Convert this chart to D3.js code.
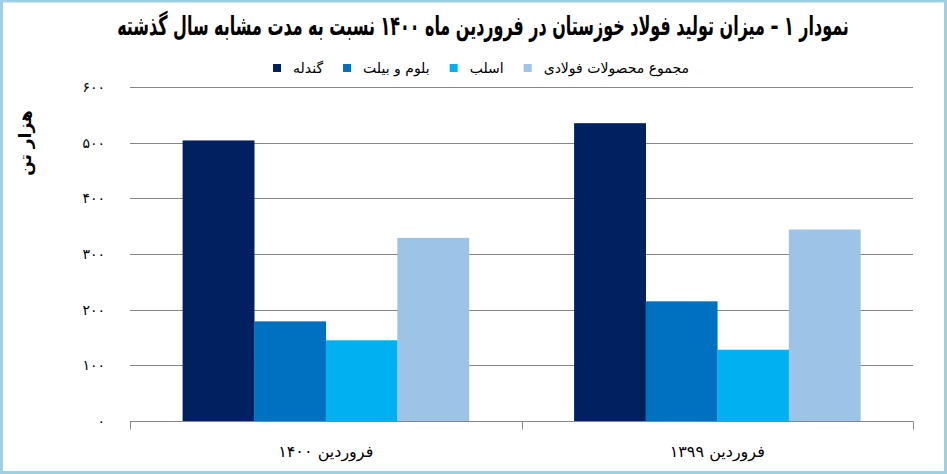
<!DOCTYPE html>
<html>
<head>
<meta charset="utf-8">
<script src="https://cdn.jsdelivr.net/npm/d3@7"></script>
<style>
  body { margin: 0; background: #fff; }
  svg { display: block; font-family: "DejaVu Sans", sans-serif; }
</style>
</head>
<body>
<svg id="chart" width="947" height="474"></svg>
<script>
// chart data
const categories = ["فروردین ۱۴۰۰", "فروردین ۱۳۹۹"];
const seriesNames = ["گندله", "بلوم و بیلت", "اسلب", "مجموع محصولات فولادی"];
const gondaleh = [504, 535];
const bloomBillet = [179, 215];
const slab = [145, 128];
const totalSteel = [329, 344];
const yTicks = [0, 100, 200, 300, 400, 500, 600];
const seriesColors = ["#002060", "#0070c0", "#00b0f0", "#9dc3e6"];

const titleText = "نمودار ۱ – میزان تولید فولاد خوزستان در فروردین ماه ۱۴۰۰ نسبت به مدت مشابه سال گذشته";
const yLabel = "هزار تن";

const seriesValues = [gondaleh, bloomBillet, slab, totalSteel];

const faDigits = s => String(s).replace(/\d/g, d => "۰۱۲۳۴۵۶۷۸۹"[d]);

const svg = d3.select("#chart");
const width = 947, height = 474;
const margin = { top: 87, right: 34, bottom: 53, left: 130 };

// frame
svg.append("rect")
  .attr("x", 1.5).attr("y", 1)
  .attr("width", width - 3).attr("height", height - 2.5)
  .attr("fill", "#fff")
  .attr("stroke", "#9fd0e2")
  .attr("stroke-width", 3);

const x0 = d3.scaleBand()
  .domain(categories)
  .range([margin.left, width - margin.right])
  .padding(0);

const x1 = d3.scaleBand()
  .domain(seriesNames)
  .range([0, x0.bandwidth()])
  .paddingInner(0)
  .paddingOuter(0.735);

const y = d3.scaleLinear()
  .domain([0, 600])
  .range([height - margin.bottom, margin.top]);

// gridlines
svg.append("g")
  .selectAll("line")
  .data(yTicks.filter(d => d > 0))
  .enter().append("line")
  .attr("x1", margin.left)
  .attr("x2", width - margin.right)
  .attr("y1", d => Math.round(y(d)) + 0.5)
  .attr("y2", d => Math.round(y(d)) + 0.5)
  .attr("stroke", "#868686")
  .attr("stroke-width", 1);

// y axis labels
const yAxis = svg.append("g")
  .attr("transform", `translate(${margin.left},0)`)
  .call(d3.axisLeft(y).tickValues(yTicks).tickSize(0).tickPadding(25)
    .tickFormat(d => faDigits(d)));
yAxis.select(".domain").remove();
yAxis.selectAll("text")
  .style("font-family", "DejaVu Sans, sans-serif")
  .style("font-size", "14px")
  .style("letter-spacing", "3px")
  .attr("fill", "#000");

// bars
const groups = svg.append("g")
  .selectAll("g")
  .data(categories)
  .enter().append("g")
  .attr("transform", d => `translate(${x0(d)},0)`);

groups.selectAll("rect")
  .data((c, ci) => seriesNames.map((s, si) => ({ s, v: seriesValues[si][ci], si })))
  .enter().append("rect")
  .attr("x", d => x1(d.s))
  .attr("y", d => y(d.v))
  .attr("width", x1.bandwidth() + 0.3)
  .attr("height", d => y(0) - y(d.v))
  .attr("fill", d => seriesColors[d.si]);

// x axis
const xAxis = svg.append("g")
  .attr("transform", `translate(0,${Math.round(y(0)) + 0.5})`);
xAxis.append("line")
  .attr("x1", margin.left).attr("x2", width - margin.right)
  .attr("stroke", "#868686");
const edges = categories.map(c => x0(c)).concat([x0(categories[categories.length - 1]) + x0.bandwidth()]);
xAxis.selectAll(".tk")
  .data(edges)
  .enter().append("line")
  .attr("class", "tk")
  .attr("x1", d => Math.round(d) + 0.5).attr("x2", d => Math.round(d) + 0.5)
  .attr("y1", 0).attr("y2", 8)
  .attr("stroke", "#868686");
xAxis.selectAll(".cat")
  .data(categories)
  .enter().append("text")
  .attr("class", "cat")
  .attr("x", d => x0(d) + x0.bandwidth() / 2)
  .attr("y", 35)
  .attr("direction", "rtl")
  .attr("text-anchor", "middle")
  .style("font-size", "16px")
  .attr("fill", "#000")
  .text(d => d);

// y axis title
svg.append("text")
  .attr("transform", "translate(31,143) rotate(-90)")
  .attr("direction", "rtl")
  .attr("text-anchor", "middle")
  .style("font-size", "17px")
  .style("font-weight", "bold")
  .text(yLabel);

// title, squeezed horizontally to the reference width
const title = svg.append("text")
  .attr("direction", "rtl")
  .attr("text-anchor", "middle")
  .attr("x", 0).attr("y", 0)
  .style("font-size", "24px")
  .style("font-weight", "bold")
  .text(titleText);
const tw = title.node().getComputedTextLength();
title.attr("transform", `translate(483,35) scale(${732 / tw},1.12)`);

// legend: square on the left of each label, laid out left to right
const legend = svg.append("g").attr("transform", "translate(0,68)");
const items = legend.selectAll("g")
  .data(seriesNames)
  .enter().append("g");
items.append("text")
  .attr("direction", "rtl")
  .attr("text-anchor", "middle")
  .attr("y", 5)
  .style("font-size", "14px")
  .attr("fill", "#000")
  .text(d => d);
const widths = [];
items.selectAll("text").each(function () { widths.push(this.getComputedTextLength()); });
const sq = 8, gapSq = 12, gapItem = 20;
const total = d3.sum(widths) + seriesNames.length * (sq + gapSq) + (seriesNames.length - 1) * gapItem;
let cx = 481 - total / 2;
items.each(function (d, i) {
  const g = d3.select(this);
  g.insert("rect", "text")
    .attr("x", cx).attr("y", -sq / 2)
    .attr("width", sq).attr("height", sq)
    .attr("fill", seriesColors[i]);
  g.select("text").attr("x", cx + sq + gapSq + widths[i] / 2);
  cx += sq + gapSq + widths[i] + gapItem;
});
</script>
</body>
</html>
